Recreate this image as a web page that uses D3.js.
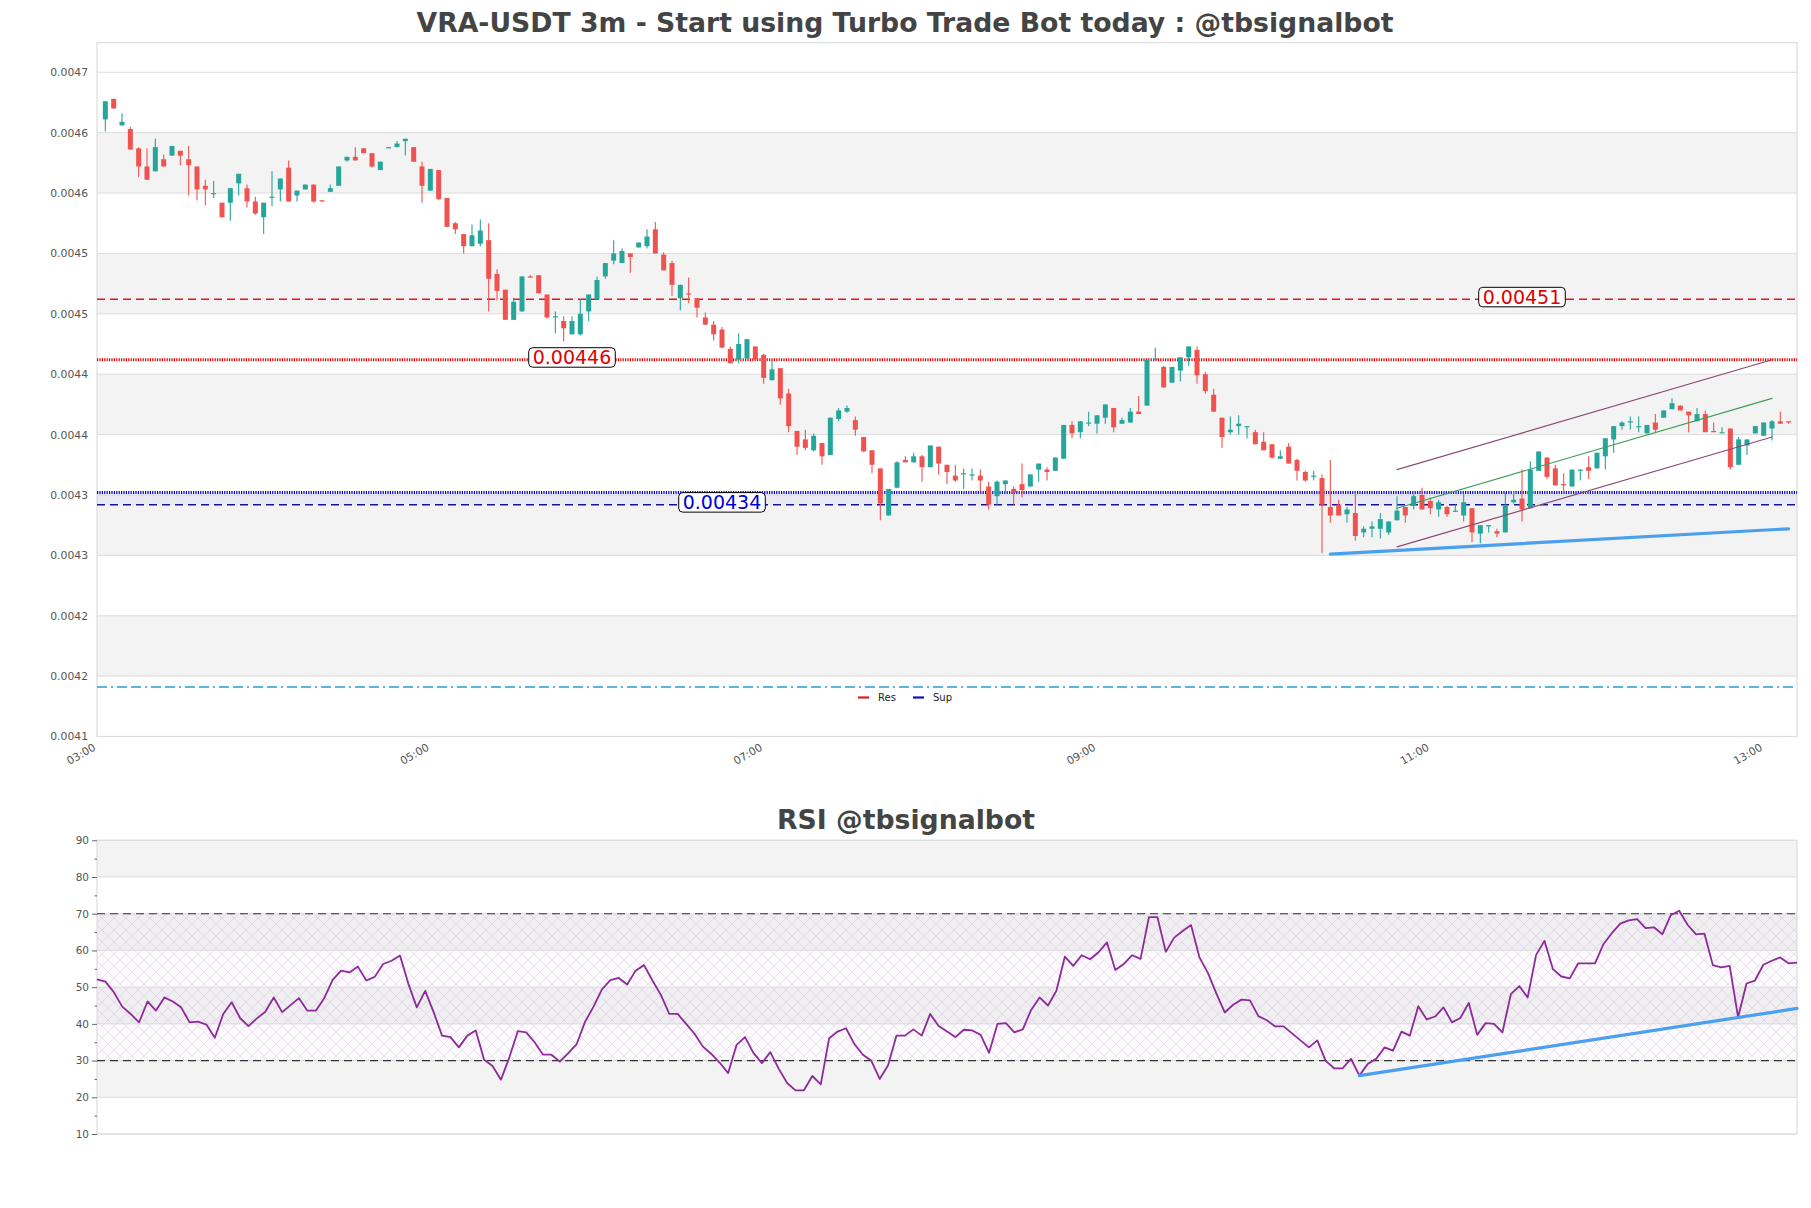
<!DOCTYPE html>
<html><head><meta charset="utf-8">
<script src="https://cdn.jsdelivr.net/npm/d3@7"></script>
<style>
body{margin:0;background:#fff}
svg text{font-family:"DejaVu Sans",sans-serif}
</style>
</head><body>
<svg id="chart" width="1811" height="1208"></svg>
<script>
// ---------------- DATA ----------------
const title = "VRA-USDT 3m - Start using Turbo Trade Bot today : @tbsignalbot";
const rsiTitle = "RSI @tbsignalbot";
const firstCandle = "03:03";   // time of first 3m candle
const candleMinutes = 3;
const xDomain = ["03:00", "13:12"];

const opens = [0.004661,0.004678,0.004656,0.004653,0.004637,0.004622,0.004618,0.004628,0.004631,0.004635,
0.004628,0.004622,0.004606,0.004599,0.004592,0.004592,0.004608,0.004604,0.004593,0.004580,
0.004596,0.004603,0.004621,0.004598,0.004603,0.004607,0.004594,0.004601,0.004606,0.004627,
0.004630,0.004637,0.004633,0.004619,0.004637,0.004638,0.004643,0.004638,0.004622,0.004602,
0.004619,0.004596,0.004575,0.004566,0.004556,0.004558,0.004561,0.004533,0.004520,0.004495,
0.004502,0.004531,0.004532,0.004516,0.004497,0.004494,0.004483,0.004483,0.004502,0.004512,
0.004531,0.004544,0.004542,0.004550,0.004555,0.004556,0.004570,0.004549,0.004542,0.004513,
0.004517,0.004513,0.004497,0.004491,0.004487,0.004471,0.004462,0.004463,0.004473,0.004466,
0.004445,0.004455,0.004434,0.004403,0.004396,0.004387,0.004393,0.004383,0.004413,0.004419,
0.004412,0.004398,0.004387,0.004372,0.004333,0.004356,0.004379,0.004377,0.004382,0.004373,
0.004390,0.004375,0.004366,0.004367,0.004367,0.004366,0.004357,0.004349,0.004359,0.004355,
0.004359,0.004357,0.004371,0.004371,0.004370,0.004380,0.004408,0.004402,0.004409,0.004409,
0.004414,0.004422,0.004409,0.004410,0.004419,0.004424,0.004463,0.004456,0.004443,0.004453,
0.004464,0.004470,0.004450,0.004433,0.004414,0.004402,0.004407,0.004406,0.004402,0.004394,
0.004392,0.004380,0.004390,0.004379,0.004369,0.004365,0.004364,0.004340,0.004342,0.004334,
0.004335,0.004319,0.004322,0.004322,0.004319,0.004329,0.004340,0.004341,0.004350,0.004345,
0.004338,0.004340,0.004336,0.004333,0.004339,0.004318,0.004324,0.004320,0.004319,0.004344,
0.004347,0.004339,0.004370,0.004381,0.004372,0.004359,0.004357,0.004370,0.004373,0.004372,
0.004382,0.004396,0.004407,0.004410,0.004406,0.004401,0.004410,0.004414,0.004421,0.004424,
0.004419,0.004411,0.004417,0.004403,0.004402,0.004405,0.004375,0.004391,0.004401,0.004399,
0.004405,0.004411,0.004411];
const highs = [0.004676,0.004678,0.004666,0.004655,0.004638,0.004637,0.004645,0.004632,0.004639,0.004635,
0.004639,0.004622,0.004611,0.004610,0.004592,0.004604,0.004616,0.004607,0.004597,0.004592,
0.004618,0.004612,0.004627,0.004602,0.004607,0.004607,0.004594,0.004607,0.004622,0.004630,
0.004638,0.004637,0.004633,0.004626,0.004638,0.004643,0.004645,0.004638,0.004626,0.004620,
0.004619,0.004596,0.004576,0.004566,0.004574,0.004578,0.004575,0.004537,0.004520,0.004513,
0.004531,0.004532,0.004532,0.004516,0.004502,0.004498,0.004498,0.004512,0.004516,0.004531,
0.004542,0.004561,0.004554,0.004550,0.004559,0.004570,0.004576,0.004551,0.004544,0.004524,
0.004530,0.004513,0.004501,0.004494,0.004489,0.004473,0.004484,0.004479,0.004473,0.004467,
0.004461,0.004455,0.004438,0.004403,0.004404,0.004401,0.004393,0.004414,0.004422,0.004424,
0.004415,0.004398,0.004387,0.004372,0.004355,0.004378,0.004382,0.004385,0.004383,0.004391,
0.004390,0.004375,0.004375,0.004372,0.004372,0.004371,0.004361,0.004362,0.004362,0.004357,
0.004376,0.004367,0.004376,0.004373,0.004381,0.004408,0.004411,0.004411,0.004419,0.004416,
0.004425,0.004422,0.004414,0.004422,0.004432,0.004462,0.004472,0.004457,0.004456,0.004464,
0.004473,0.004473,0.004452,0.004438,0.004414,0.004415,0.004416,0.004407,0.004404,0.004402,
0.004392,0.004387,0.004393,0.004380,0.004370,0.004370,0.004367,0.004379,0.004346,0.004340,
0.004352,0.004324,0.004328,0.004335,0.004328,0.004349,0.004340,0.004351,0.004356,0.004348,
0.004346,0.004341,0.004342,0.004351,0.004339,0.004325,0.004325,0.004322,0.004352,0.004353,
0.004371,0.004378,0.004386,0.004381,0.004375,0.004368,0.004371,0.004371,0.004382,0.004385,
0.004397,0.004407,0.004411,0.004415,0.004415,0.004408,0.004417,0.004420,0.004430,0.004424,
0.004419,0.004422,0.004420,0.004410,0.004406,0.004405,0.004398,0.004396,0.004407,0.004410,
0.004412,0.004419,0.004411];
const lows = [0.004651,0.004670,0.004656,0.004636,0.004613,0.004611,0.004618,0.004622,0.004631,0.004623,
0.004598,0.004594,0.004590,0.004596,0.004580,0.004577,0.004598,0.004588,0.004582,0.004566,
0.004589,0.004593,0.004593,0.004593,0.004603,0.004592,0.004593,0.004601,0.004606,0.004626,
0.004627,0.004633,0.004621,0.004619,0.004637,0.004638,0.004631,0.004626,0.004592,0.004602,
0.004594,0.004572,0.004566,0.004550,0.004556,0.004556,0.004502,0.004511,0.004495,0.004495,
0.004502,0.004530,0.004517,0.004496,0.004484,0.004477,0.004483,0.004482,0.004494,0.004512,
0.004529,0.004541,0.004542,0.004534,0.004555,0.004554,0.004550,0.004536,0.004515,0.004503,
0.004509,0.004497,0.004491,0.004478,0.004472,0.004459,0.004459,0.004463,0.004462,0.004442,
0.004445,0.004425,0.004402,0.004383,0.004387,0.004386,0.004375,0.004383,0.004411,0.004418,
0.004399,0.004386,0.004368,0.004329,0.004333,0.004356,0.004377,0.004377,0.004361,0.004373,
0.004367,0.004359,0.004361,0.004355,0.004362,0.004353,0.004338,0.004342,0.004353,0.004342,
0.004348,0.004357,0.004361,0.004362,0.004370,0.004380,0.004397,0.004397,0.004407,0.004401,
0.004409,0.004402,0.004409,0.004410,0.004417,0.004424,0.004461,0.004439,0.004443,0.004444,
0.004457,0.004442,0.004434,0.004419,0.004389,0.004400,0.004400,0.004397,0.004392,0.004387,
0.004380,0.004380,0.004376,0.004362,0.004361,0.004362,0.004302,0.004327,0.004333,0.004327,
0.004312,0.004315,0.004315,0.004314,0.004317,0.004329,0.004327,0.004338,0.004338,0.004334,
0.004332,0.004332,0.004336,0.004328,0.004311,0.004310,0.004319,0.004315,0.004319,0.004343,
0.004328,0.004339,0.004370,0.004363,0.004358,0.004352,0.004357,0.004362,0.004363,0.004372,
0.004371,0.004385,0.004404,0.004404,0.004402,0.004401,0.004402,0.004414,0.004421,0.004420,
0.004402,0.004411,0.004402,0.004402,0.004402,0.004371,0.004375,0.004383,0.004401,0.004399,
0.004395,0.004409,0.004409];
const closes = [0.004676,0.004670,0.004659,0.004636,0.004622,0.004611,0.004638,0.004622,0.004639,0.004631,
0.004623,0.004603,0.004603,0.004600,0.004580,0.004604,0.004616,0.004593,0.004583,0.004592,
0.004597,0.004612,0.004593,0.004602,0.004607,0.004593,0.004593,0.004604,0.004622,0.004630,
0.004627,0.004633,0.004622,0.004626,0.004638,0.004641,0.004645,0.004626,0.004606,0.004620,
0.004595,0.004572,0.004570,0.004556,0.004565,0.004569,0.004529,0.004519,0.004495,0.004510,
0.004531,0.004530,0.004517,0.004497,0.004498,0.004488,0.004494,0.004500,0.004516,0.004528,
0.004542,0.004550,0.004552,0.004547,0.004559,0.004564,0.004550,0.004536,0.004524,0.004524,
0.004516,0.004505,0.004491,0.004483,0.004472,0.004459,0.004475,0.004479,0.004462,0.004447,
0.004454,0.004430,0.004407,0.004390,0.004389,0.004399,0.004382,0.004414,0.004420,0.004422,
0.004404,0.004386,0.004375,0.004343,0.004355,0.004377,0.004377,0.004382,0.004373,0.004391,
0.004376,0.004369,0.004362,0.004368,0.004367,0.004362,0.004342,0.004361,0.004362,0.004352,
0.004354,0.004367,0.004376,0.004369,0.004381,0.004408,0.004401,0.004411,0.004410,0.004416,
0.004425,0.004406,0.004412,0.004419,0.004417,0.004462,0.004463,0.004439,0.004456,0.004464,
0.004473,0.004449,0.004436,0.004419,0.004398,0.004404,0.004409,0.004407,0.004392,0.004387,
0.004381,0.004382,0.004376,0.004370,0.004362,0.004366,0.004342,0.004333,0.004333,0.004338,
0.004316,0.004322,0.004324,0.004330,0.004328,0.004337,0.004333,0.004349,0.004338,0.004339,
0.004344,0.004334,0.004337,0.004344,0.004319,0.004325,0.004325,0.004318,0.004341,0.004346,
0.004338,0.004371,0.004386,0.004365,0.004358,0.004358,0.004371,0.004371,0.004370,0.004385,
0.004397,0.004407,0.004410,0.004411,0.004407,0.004408,0.004404,0.004420,0.004426,0.004420,
0.004416,0.004417,0.004402,0.004402,0.004402,0.004373,0.004396,0.004396,0.004407,0.004410,
0.004411,0.004409,0.004410];

const rsiValues = [52.1,51.5,48.6,44.7,42.7,40.4,46.1,43.6,47.2,46.1,
44.5,40.4,40.6,39.8,36.2,42.7,45.9,41.6,39.4,41.5,
43.3,47.2,43.2,45.1,47.0,43.6,43.6,47.0,52.0,54.5,
54.0,55.6,51.8,52.8,56.3,57.2,58.6,50.9,44.5,49.0,
43.2,36.8,36.4,33.6,36.8,38.2,30.2,28.5,24.8,30.9,
38.0,37.7,35.0,31.6,31.6,29.7,32.0,34.5,40.6,44.7,
49.4,51.9,52.5,50.7,54.5,56.0,51.8,47.9,42.7,42.7,
40.0,37.3,33.8,31.8,29.4,26.6,34.3,36.4,32.1,29.3,
32.3,27.8,23.9,21.9,21.9,25.8,23.5,36.1,37.9,38.8,
34.5,31.6,30.0,25.0,28.7,36.8,36.8,38.5,36.8,42.7,
39.4,37.9,36.4,38.4,38.2,37.0,32.1,40.0,40.2,37.7,
38.5,43.8,47.2,45.0,49.0,58.3,55.8,58.7,57.6,59.5,
62.2,54.7,56.3,58.7,57.7,69.1,69.1,59.6,63.5,65.3,
66.9,58.1,53.9,48.3,43.1,45.2,46.6,46.4,42.1,41.0,
39.3,39.3,37.4,35.5,33.6,35.5,29.9,27.9,27.9,30.5,
25.9,29.1,30.5,33.6,32.7,37.9,36.8,44.8,41.2,42.0,
44.5,40.4,41.6,45.7,37.0,40.2,40.0,37.7,48.1,50.3,
47.2,58.8,62.6,54.9,52.9,52.4,56.5,56.5,56.5,61.7,
64.7,67.3,68.2,68.5,66.1,66.3,64.4,69.6,70.8,67.0,
64.4,64.6,56.0,55.4,55.8,41.8,51.0,51.8,56.1,57.2,
58.1,56.5,56.7];

const yTickValues = [0.00415,0.0042,0.00425,0.0043,0.00435,0.0044,0.00445,0.0045,0.00455,0.0046,0.00465,0.0047];
const yTickLabels = ["0.0041","0.0042","0.0042","0.0043","0.0043","0.0044","0.0044","0.0045","0.0045","0.0046","0.0046","0.0047"];
const yDomain = [0.00415, 0.0047245];
const xTickLabels = ["03:00","05:00","07:00","09:00","11:00","13:00"];
const rsiTicks = [10,20,30,40,50,60,70,80,90];
const rsiMinorTicks = [15,25,35,45,55,65,75,85];
const rsiBounds = [30,70];

// horizontal levels
const levelValues = [0.004512, 0.004462, 0.004352, 0.004342, 0.004191];
const levelKinds  = ["resDash","resDot","supDot","supDash","lowDash"];
// level labels
const labelTexts = ["0.00451","0.00446","0.00434"];
const labelValues = [0.004512, 0.004462, 0.004342];
const labelTimes = ["11:33","05:51","06:45"];
const labelKinds = ["res","res","sup"];
// trend lines  [startTime, startValue, endTime, endValue]
const trendSupport = ["10:24",0.004301,"13:09",0.004322];
const channelUpper = ["10:48",0.004371,"13:03",0.004462];
const channelMid   = ["10:48",0.004339,"13:03",0.004430];
const channelLower = ["10:48",0.004307,"13:03",0.004398];
const rsiTrend     = ["10:33",25.9,"13:09",44.2];
const legendNames = ["Res","Sup"];

// ---------------- DRAW ----------------
const T = s => { const [h,m] = s.split(":").map(Number); return new Date(2024,0,1,h,m); };
const candleTime = i => d3.timeMinute.offset(T(firstCandle), i*candleMinutes);
const N = closes.length;
const candles = d3.range(N).map(i => ({t:candleTime(i), o:opens[i], h:highs[i], l:lows[i], c:closes[i]}));

const svg = d3.select("#chart");
svg.append("rect").attr("width",1811).attr("height",1208).attr("fill","#fff");

const L = 97, R = 1797;
const M = {top:42.7, bottom:736.5};
const x = d3.scaleTime().domain(xDomain.map(T)).range([L,R]);
const y = d3.scaleLinear().domain(yDomain).range([M.bottom, M.top]);

const GREEN = "#26a69a", RED = "#ef5350", GRID = "#dcdcdc", BAND = "#f3f3f3";

// title
svg.append("text").attr("x",905).attr("y",32).attr("text-anchor","middle")
  .attr("font-size",26.7).attr("font-weight","bold").attr("fill","#444").text(title);

// bands
const g = svg.append("g");
d3.range(yTickValues.length-1).filter(k=>k%2===1).forEach(k=>{
  g.append("rect").attr("x",L).attr("width",R-L)
   .attr("y",y(yTickValues[k+1])).attr("height",y(yTickValues[k])-y(yTickValues[k+1])).attr("fill",BAND);
});
// y axis with gridlines
const yAxis = d3.axisLeft(y).tickValues(yTickValues).tickFormat((d,i)=>yTickLabels[i]).tickSize(0).tickPadding(9);
const ya = g.append("g").attr("transform",`translate(${L},0)`).call(yAxis);
ya.select(".domain").remove();
ya.selectAll("text").attr("font-size",10.8).attr("fill","#555").style("font-family",null);
g.selectAll(".grid").data(yTickValues).enter().append("line")
  .attr("x1",L).attr("x2",R).attr("y1",d=>y(d)).attr("y2",d=>y(d)).attr("stroke",GRID).attr("stroke-width",1);
g.append("rect").attr("x",L).attr("y",M.top).attr("width",R-L).attr("height",M.bottom-M.top)
  .attr("fill","none").attr("stroke",GRID).attr("stroke-width",1.2);

// x axis
const xAxis = d3.axisBottom(x).tickValues(xTickLabels.map(T)).tickFormat(d3.timeFormat("%H:%M")).tickSize(0).tickPadding(0);
const xa = g.append("g").attr("transform",`translate(0,${M.bottom})`).call(xAxis);
xa.select(".domain").remove();
xa.selectAll("text").attr("font-size",10.8).attr("fill","#555").style("font-family",null)
  .attr("text-anchor","end").attr("dy",0).attr("y",0)
  .attr("transform","translate(-1,13) rotate(-30)");

// band between support lines
g.append("rect").attr("x",L).attr("width",R-L).attr("y",y(levelValues[2])).attr("height",y(levelValues[3])-y(levelValues[2]))
  .attr("fill","rgba(60,60,255,0.05)");

// horizontal levels
const levelStyle = {
  resDash:{stroke:"#e8141c",w:1.5,dash:"8,5"},
  resDot:{stroke:"#e00000",w:3,dash:"1.2,1.2"},
  supDot:{stroke:"#0000d8",w:3,dash:"1.2,1.2"},
  supDash:{stroke:"#14149a",w:1.5,dash:"8,5"},
  lowDash:{stroke:"#2a9ad8",w:1.3,dash:"10,4,2,4,10,4"}
};
levelValues.forEach((v,i)=>{
  const s = levelStyle[levelKinds[i]];
  g.append("line").attr("x1",L).attr("x2",R).attr("y1",y(v)).attr("y2",y(v))
   .attr("stroke",s.stroke).attr("stroke-width",s.w).attr("stroke-dasharray",s.dash);
});

// candles
const pitch = x(candleTime(1)) - x(candleTime(0));
const bw = pitch*0.6;
const cg = g.append("g");
cg.selectAll(".wick").data(candles).enter().append("line")
  .attr("x1",d=>x(d.t)).attr("x2",d=>x(d.t)).attr("y1",d=>y(d.h)).attr("y2",d=>y(d.l))
  .attr("stroke",d=>d.c>=d.o?GREEN:RED).attr("stroke-width",1.1);
cg.selectAll(".body").data(candles).enter().append("rect")
  .attr("x",d=>x(d.t)-bw/2).attr("width",bw)
  .attr("y",d=>y(Math.max(d.o,d.c)))
  .attr("height",d=>Math.max(1.2, Math.abs(y(d.o)-y(d.c))))
  .attr("fill",d=>d.c>=d.o?GREEN:RED);

// trend lines
function seg(sel, arr, xs, ys, color, w){
  sel.append("line").attr("x1",xs(T(arr[0]))).attr("y1",ys(arr[1])).attr("x2",xs(T(arr[2]))).attr("y2",ys(arr[3]))
   .attr("stroke",color).attr("stroke-width",w).attr("stroke-linecap","round");
}
seg(g, channelUpper, x, y, "#8c4a72", 1.1);
seg(g, channelLower, x, y, "#8c4a72", 1.1);
seg(g, channelMid, x, y, "#3a9e55", 1.1);
seg(g, trendSupport, x, y, "#4aa0ee", 3.2);

// level labels
labelTexts.forEach((txt,i)=>{
  const cx = x(T(labelTimes[i])), cy = y(labelValues[i]) - 2.5;
  const lg = g.append("g");
  const t = lg.append("text").attr("x",cx).attr("y",cy+7).attr("text-anchor","middle")
    .attr("font-size",19)
    .attr("fill",labelKinds[i]==="res"?"#e00000":"#0000d8").text(txt);
  const w = t.node().getComputedTextLength();
  lg.insert("rect","text").attr("x",cx-w/2-4).attr("y",cy-9.5).attr("width",w+8).attr("height",19.5)
    .attr("rx",4).attr("fill","#fff").attr("stroke","#000").attr("stroke-width",1);
});

// legend
const lgd = g.append("g");
[["#d62020",858,878],["#1010c0",913,933]].forEach((c,i)=>{
  lgd.append("line").attr("x1",c[1]).attr("x2",c[1]+11).attr("y1",697.5).attr("y2",697.5).attr("stroke",c[0]).attr("stroke-width",2.2);
  lgd.append("text").attr("x",c[2]).attr("y",701).attr("font-size",10).attr("fill","#222").text(legendNames[i]);
});

// ---------------- RSI ----------------
const RM = {top:840.3, bottom:1134};
const xr = d3.scaleTime().domain([candleTime(0), candleTime(N-1)]).range([L,R]);
const yr = d3.scaleLinear().domain([10,90]).range([RM.bottom, RM.top]);

svg.append("text").attr("x",906).attr("y",829).attr("text-anchor","middle")
  .attr("font-size",26.7).attr("font-weight","bold").attr("fill","#444").text(rsiTitle);

const rg = svg.append("g");
const defs = svg.append("defs");
const pat = defs.append("pattern").attr("id","hatch").attr("width",12).attr("height",12).attr("patternUnits","userSpaceOnUse");
pat.append("path").attr("d","M0,0L12,12M12,0L0,12").attr("stroke","rgba(140,100,170,0.22)").attr("stroke-width",0.7);

d3.range(rsiTicks.length-1).filter(k=>k%2===1).forEach(k=>{
  rg.append("rect").attr("x",L).attr("width",R-L).attr("y",yr(rsiTicks[k+1])).attr("height",yr(rsiTicks[k])-yr(rsiTicks[k+1])).attr("fill",BAND);
});
rg.append("rect").attr("x",L).attr("width",R-L).attr("y",yr(rsiBounds[1])).attr("height",yr(rsiBounds[0])-yr(rsiBounds[1]))
  .attr("fill","url(#hatch)");
rg.append("rect").attr("x",L).attr("width",R-L).attr("y",yr(rsiBounds[1])).attr("height",yr(rsiBounds[0])-yr(rsiBounds[1]))
  .attr("fill","rgba(200,170,220,0.06)");
rg.selectAll(".rgrid").data(rsiTicks).enter().append("line")
  .attr("x1",L).attr("x2",R).attr("y1",d=>yr(d)).attr("y2",d=>yr(d)).attr("stroke",GRID);
rg.append("rect").attr("x",L).attr("y",RM.top).attr("width",R-L).attr("height",RM.bottom-RM.top)
  .attr("fill","none").attr("stroke",GRID).attr("stroke-width",1.2);

const ra = rg.append("g").attr("transform",`translate(${L},0)`).call(d3.axisLeft(yr).tickValues(rsiTicks).tickSize(5).tickPadding(3));
ra.select(".domain").remove();
ra.selectAll("line").attr("stroke","#666");
ra.selectAll("text").attr("font-size",10.5).attr("fill","#555").style("font-family",null);
const rm = rg.append("g").attr("transform",`translate(${L},0)`).call(d3.axisLeft(yr).tickValues(rsiMinorTicks).tickSize(2.5).tickFormat(""));
rm.select(".domain").remove();
rm.selectAll("line").attr("stroke","#666");

rsiBounds.forEach(v=>{
  rg.append("line").attr("x1",L).attr("x2",R).attr("y1",yr(v)).attr("y2",yr(v))
    .attr("stroke","#333").attr("stroke-width",1.2).attr("stroke-dasharray","8,5");
});

rg.append("path").datum(rsiValues)
  .attr("d", d3.line().x((d,i)=>xr(candleTime(i))).y(d=>yr(d)))
  .attr("fill","none").attr("stroke","#8e2a9a").attr("stroke-width",1.8).attr("stroke-linejoin","round");

seg(rg, rsiTrend, xr, yr, "#4aa0ee", 3.2);
</script>
</body></html>
